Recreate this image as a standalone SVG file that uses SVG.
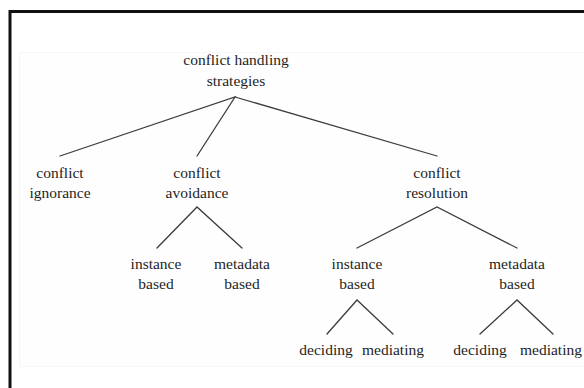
<svg xmlns="http://www.w3.org/2000/svg" width="584" height="388" viewBox="0 0 584 388">
<style>
text{font-family:"Liberation Serif","Times New Roman",serif;font-size:15.5px;fill:#1f1f1f;text-anchor:middle}
.e{stroke:#3c3c3c;stroke-width:1.3;fill:none;stroke-linecap:round}
</style>
<rect x="0" y="0" width="584" height="388" fill="#ffffff"/>
<rect x="19.5" y="52.5" width="570" height="314" fill="#fefefe" stroke="#f6f6f6" stroke-width="0.8"/>
<path d="M10 388V11.5H584" fill="none" stroke="#111" stroke-width="3"/>
<g id="connectors">
<path class="e" d="M60 156L235 97L197 156M235 97L437 156"/>
<path class="e" d="M157 248L197 207L242 248"/>
<path class="e" d="M357 248L437 207L517 248"/>
<path class="e" d="M327 334L357 300L393 334"/>
<path class="e" d="M480 334L517 300L553 334"/>
</g>
<g id="root"><text x="236" y="65">conflict handling</text><text x="236" y="86">strategies</text></g>
<g id="ignorance"><text x="60" y="178">conflict</text><text x="60" y="198">ignorance</text></g>
<g id="avoidance"><text x="197" y="178">conflict</text><text x="197" y="198">avoidance</text></g>
<g id="resolution"><text x="437" y="178">conflict</text><text x="437" y="198">resolution</text></g>
<g id="av-instance"><text x="156" y="269">instance</text><text x="156" y="289">based</text></g>
<g id="av-metadata"><text x="242" y="269">metadata</text><text x="242" y="289">based</text></g>
<g id="res-instance"><text x="357" y="269">instance</text><text x="357" y="289">based</text></g>
<g id="res-metadata"><text x="517" y="269">metadata</text><text x="517" y="289">based</text></g>
<g id="inst-deciding"><text x="326" y="355">deciding</text></g>
<g id="inst-mediating"><text x="393" y="355">mediating</text></g>
<g id="meta-deciding"><text x="480" y="355">deciding</text></g>
<g id="meta-mediating"><text x="551" y="355">mediating</text></g>
</svg>
